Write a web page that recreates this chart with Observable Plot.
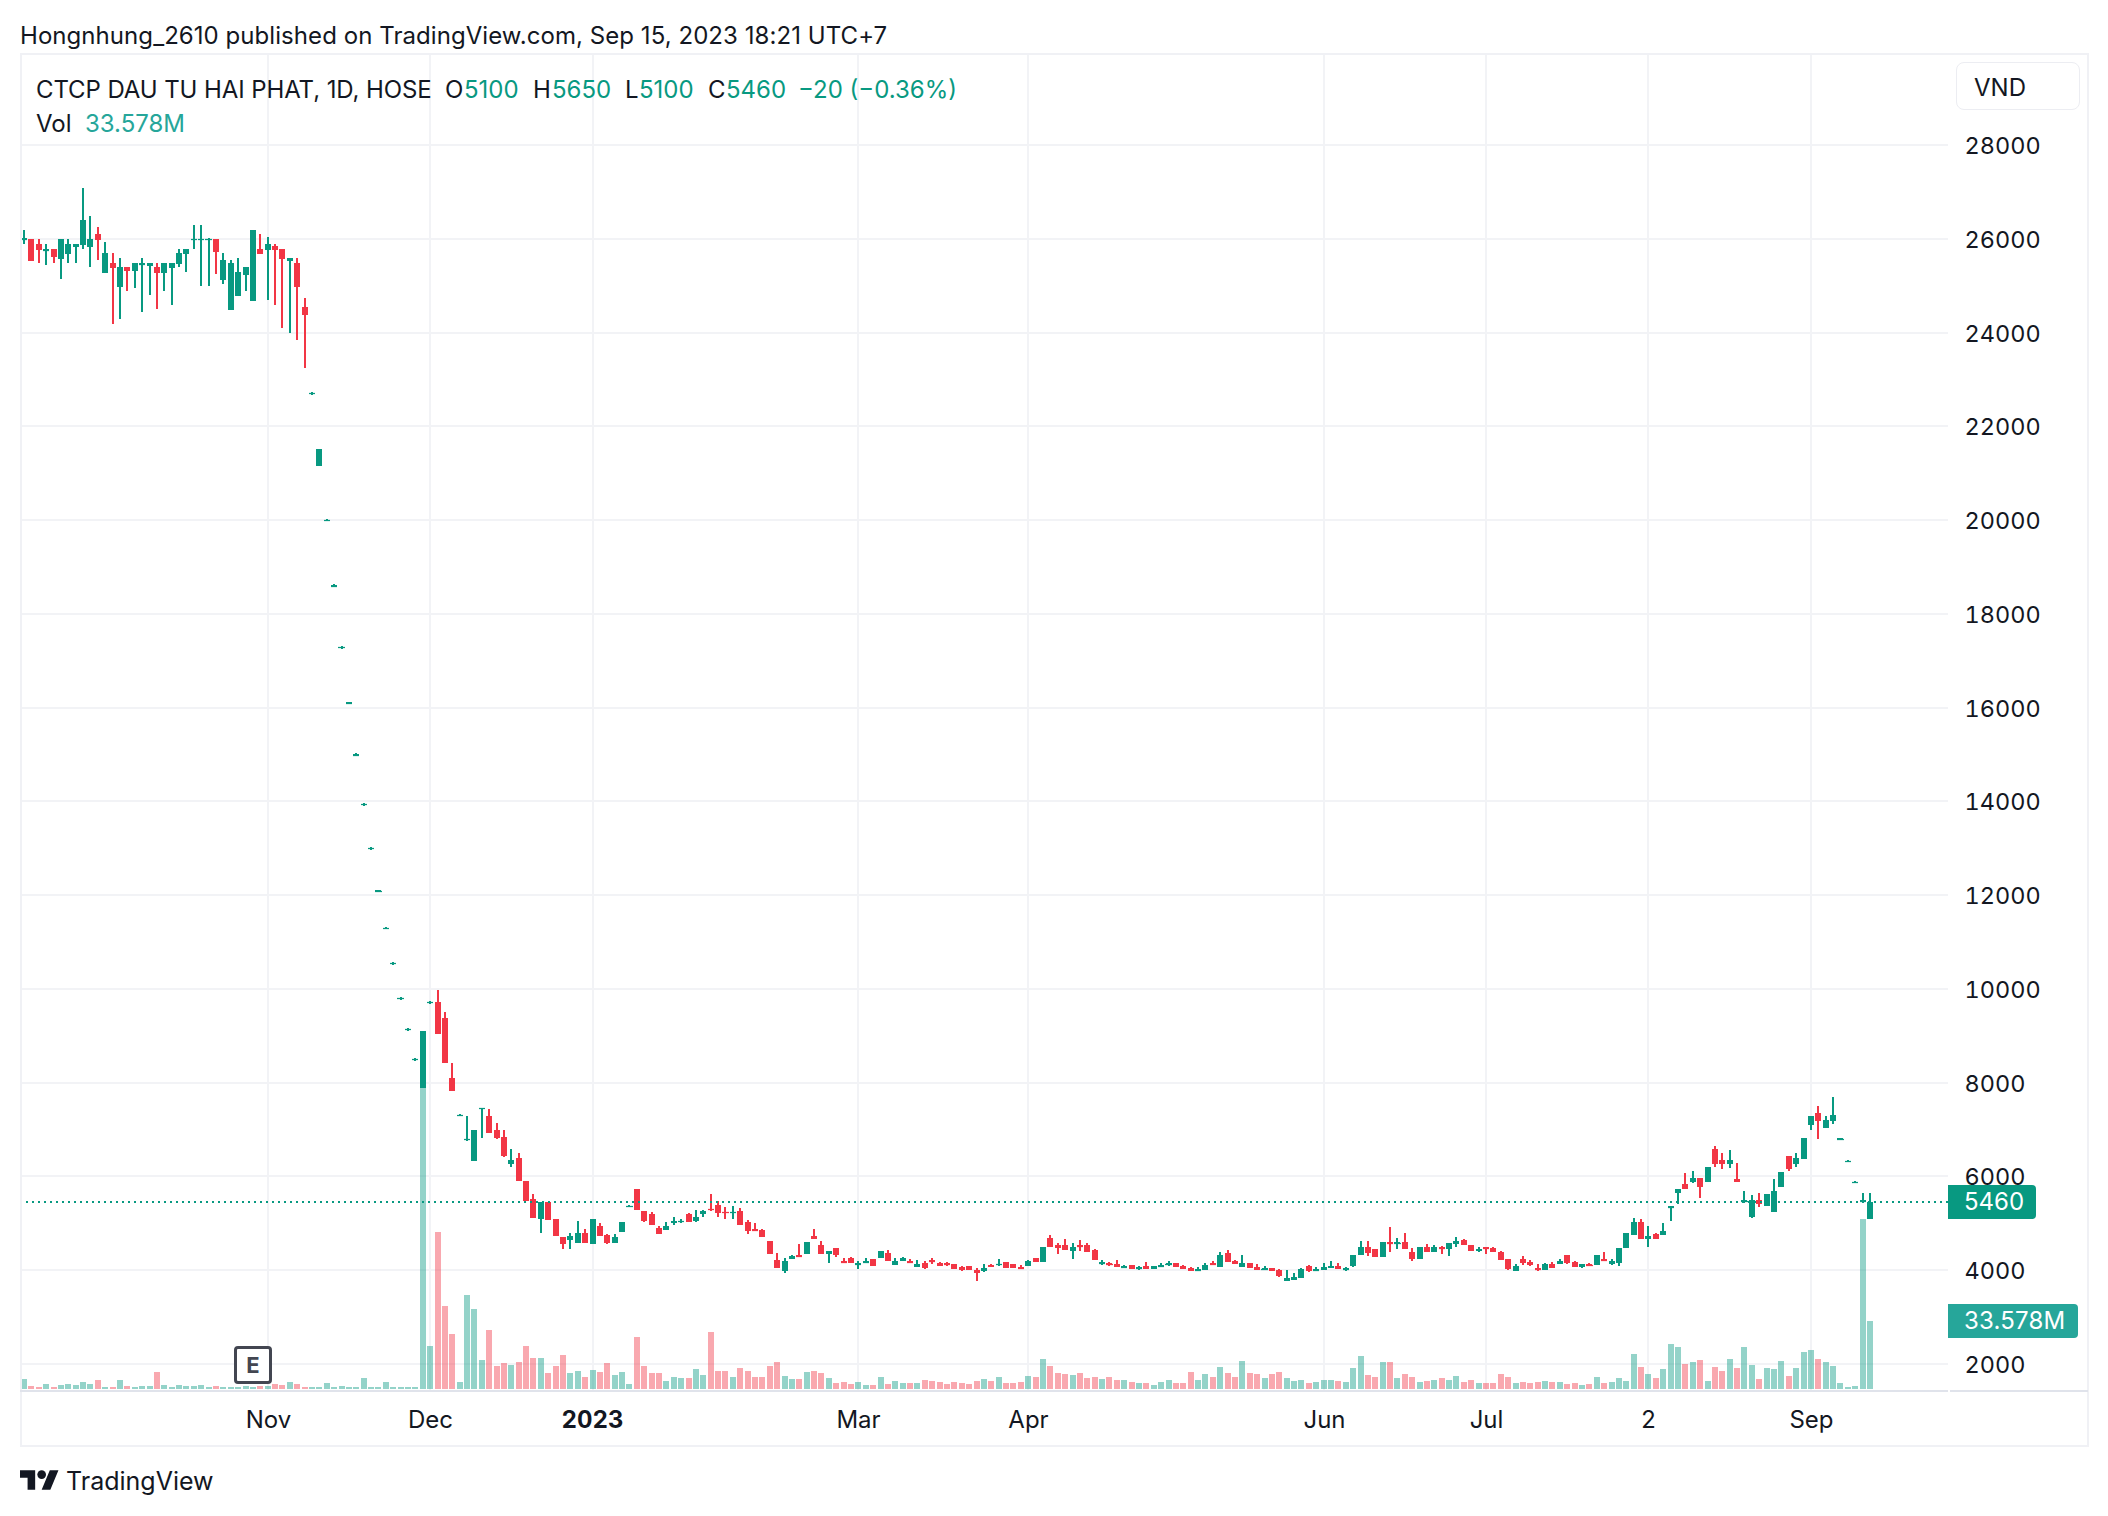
<!DOCTYPE html>
<html><head><meta charset="utf-8">
<script src="https://cdn.jsdelivr.net/npm/d3@7"></script>
<script src="https://cdn.jsdelivr.net/npm/@observablehq/plot@0.6"></script>
<style>
html,body{margin:0;padding:0;background:#fff;overflow:hidden}
#page{position:relative;width:2108px;height:1516px;font-family:Inter,"Noto Sans",sans-serif;color:#131722;font-size:24px;line-height:1}
#chart{position:absolute;left:0;top:54px}
.t{position:absolute;white-space:nowrap;transform:translateY(-50%)}
.box{position:absolute;box-sizing:border-box}
</style></head><body><div id="page"><div id="chart"></div></div>
<script>
const opens=[
25980,26000,25890,25760,25780,25570,25680,25820,25870,25820,
26100,25270,25480,24970,25400,25310,25460,25420,25400,25270,
25380,25460,25680,25980,25980,25980,26000,25120,24480,24780,
25230,24670,25780,25760,25850,25780,25530,25480,24550,22690,
21150,19990,18590,17280,16090,14990,13930,12990,12080,11290,
10540,9790,9130,8490,7890,9705,9720,9380,8100,7300,
6780,6340,7450,7300,7000,6850,6270,6400,5910,5510,
5100,5460,5100,4700,4650,4590,4800,4550,4950,4760,
4590,4820,5360,5740,5270,5190,4910,4850,5000,5030,
5190,5040,5190,5310,5400,5250,5230,5260,5020,4870,
4850,4630,4220,3990,4250,4330,4350,4740,4530,4350,
4480,4200,4270,4120,4160,4250,4270,4370,4120,4200,
4200,4070,4160,4220,4160,4160,4140,4070,4090,4010,
3990,4120,4120,4180,4140,4070,4090,4270,4180,4680,
4530,4530,4410,4530,4530,4430,4130,4150,4130,4060,
4110,4020,4090,4020,4090,4130,4150,4090,4040,3980,
4000,4150,4060,4360,4190,4060,4150,4060,4000,4040,
4000,3770,3790,3830,4090,3980,4000,4040,4090,4000,
4090,4320,4490,4450,4280,4600,4580,4600,4380,4230,
4490,4380,4490,4450,4560,4640,4530,4400,4490,4470,
4380,4230,3980,4230,4170,4040,4000,4130,4130,4320,
4170,4060,4130,4110,4230,4130,4150,4470,4750,5020,
4660,4770,4750,5330,5650,5840,5890,5970,5890,6590,
6360,6270,5950,5470,5140,5500,5370,5240,5780,6440,
6270,6380,7090,7360,7040,7190,6790,6320,5870,5470,5100];
const highs=[
26190,26000,26000,25890,25780,26000,26000,25890,27080,26490,
26250,25930,25700,25590,25400,25480,25590,25480,25480,25480,
25480,25780,25780,26290,26290,26020,26000,25700,25550,25590,
25400,26190,26100,26040,25890,25780,25590,25590,24740,22730,
21510,20030,18630,17320,16130,15030,13970,13030,12120,11330,
10580,9830,9170,8530,9105,9745,9980,9510,8420,7340,
7300,7000,7470,7440,7150,7000,6590,6490,5910,5630,
5460,5460,5100,4700,4800,5040,4870,5090,5000,4780,
4780,5020,5400,5740,5270,5250,4950,5020,5140,5100,
5230,5290,5290,5630,5480,5340,5380,5320,5070,5000,
4890,4630,4370,4270,4330,4550,4610,4870,4630,4420,
4480,4270,4290,4200,4270,4250,4400,4440,4270,4290,
4250,4220,4200,4270,4180,4180,4140,4090,4090,4050,
4140,4140,4250,4180,4140,4120,4220,4270,4500,4760,
4590,4660,4580,4640,4580,4450,4210,4170,4210,4110,
4110,4090,4170,4090,4150,4190,4150,4110,4060,4060,
4150,4190,4380,4430,4210,4320,4150,4130,4090,4040,
4020,4000,3940,4040,4110,4060,4150,4190,4150,4060,
4320,4620,4620,4450,4600,4920,4680,4790,4470,4490,
4560,4530,4510,4580,4700,4660,4530,4490,4490,4490,
4400,4230,4130,4300,4210,4130,4150,4170,4230,4320,
4190,4130,4150,4320,4380,4230,4470,4790,5110,5090,
4940,4790,5000,5360,5740,6080,6120,5970,6210,6640,
6510,6570,6290,5690,5610,5650,5630,5950,6100,6440,
6510,6830,7300,7510,7300,7690,6830,6360,5910,5650,5650];
const lows=[
25890,25530,25480,25440,25480,25140,25480,25480,25780,25400,
25550,25270,24180,24290,24890,24950,24440,24800,24500,24890,
24590,25400,25290,25780,24990,24990,25250,25040,24480,24780,
24890,24670,25680,24690,24590,24100,23990,23840,23240,22670,
21150,19970,18570,17260,16070,14970,13910,12970,12060,11270,
10520,9770,9110,8470,7890,9685,9040,8420,7830,7280,
6760,6340,6810,6930,6800,6420,6210,5910,5480,5120,
4800,5080,4740,4460,4460,4590,4590,4550,4740,4570,
4590,4820,5340,5290,5020,4970,4780,4850,4970,5000,
5020,5020,5140,5270,5140,5100,5100,4960,4780,4830,
4700,4350,4050,3940,4250,4290,4350,4660,4350,4160,
4290,4160,4160,4030,4160,4090,4270,4200,4120,4200,
4160,4070,4030,4140,4090,4090,4030,3990,4010,3770,
3960,4070,4090,4050,4050,4030,4090,4180,4180,4500,
4350,4430,4240,4410,4380,4210,4110,4090,4060,4040,
4020,4000,4020,4020,4060,4090,4060,4020,3980,3980,
4000,4110,4060,4170,4130,4060,4040,4000,4000,3980,
3850,3770,3790,3830,3960,3980,4000,4040,4020,3980,
4060,4320,4300,4280,4280,4380,4450,4450,4190,4230,
4380,4380,4340,4300,4490,4530,4400,4380,4340,4380,
4210,4000,3980,4110,4090,3980,4000,4040,4130,4130,
4060,4040,4090,4110,4190,4110,4090,4470,4750,4660,
4490,4660,4750,5050,5410,5740,5860,5540,5890,6210,
6160,6190,5890,5440,5110,5350,5370,5240,5780,6120,
6210,6380,7000,6790,7040,7110,6770,6300,5850,5440,5100];
const closes=[
26010,25530,25760,25780,25610,26000,25890,25890,26400,26000,
25970,25700,25380,25400,25310,25480,25480,25480,25270,25480,
25480,25700,25780,26000,26000,26000,25720,25550,25480,25290,
25400,26190,25680,25890,25760,25570,25590,24970,24370,22710,
21510,20010,18610,17300,16110,15010,13950,13010,12100,11310,
10560,9810,9150,8510,9105,9725,9040,8420,7830,7320,
6800,7000,7470,6930,6830,6440,6360,5910,5480,5120,
5460,5080,4740,4570,4720,4800,4590,5090,4740,4590,
4700,5020,5380,5290,5040,4970,4780,4950,5060,5060,
5020,5140,5270,5290,5230,5230,5250,4960,4830,4830,
4700,4350,4050,4200,4310,4290,4610,4660,4350,4400,
4330,4160,4160,4160,4200,4090,4400,4200,4200,4270,
4160,4140,4050,4180,4090,4120,4030,4010,4010,3940,
4050,4070,4140,4050,4050,4030,4200,4180,4500,4500,
4480,4430,4490,4510,4380,4210,4170,4110,4060,4090,
4020,4060,4020,4090,4110,4150,4060,4020,3980,4020,
4110,4110,4320,4170,4130,4150,4040,4000,4040,3980,
3870,3830,3850,4020,3980,4020,4060,4090,4020,4040,
4320,4490,4360,4280,4600,4580,4600,4450,4230,4490,
4380,4490,4470,4580,4620,4530,4400,4450,4450,4380,
4210,4020,4090,4150,4110,4020,4130,4040,4190,4150,
4060,4130,4090,4320,4190,4190,4470,4790,5020,4660,
4730,4660,4830,5360,5740,5740,5970,5780,6210,6270,
6270,6360,5890,5500,5500,5410,5630,5690,6100,6160,
6400,6830,7300,7190,7210,7320,6810,6340,5890,5490,5460];
const volumesM=[
4.9,1.5,1.0,2.5,1.0,2.0,2.5,2.0,3.5,2.5,
4.4,1,1,4.4,1.5,1,1.5,1.5,8.4,2,
1,2,1.5,1.5,2,1,1.5,1,1,1,
1.5,1,1.5,1.5,2.5,2,3.5,2.5,1,1,
1,3,1,1.5,1,1,5.4,1,1,3.5,
1,1,1,1,160,21.2,77.5,41,27.2,3.5,
46.4,39.5,14.3,29.1,11.4,12.8,11.9,13.3,21.2,15.3,
15.3,7.9,11.4,16.8,7.9,8.9,5.9,9.4,8.4,12.8,
6.9,8.4,2.5,25.7,11.4,7.9,7.9,4,5.9,5.4,
5.4,9.9,6.9,28.1,8.9,8.9,5.9,10.4,8.9,5.9,
5.9,11.4,13.3,6.4,4.9,4.9,8.4,8.9,7.9,5.4,
3,3.5,2.5,3.5,2,2,5.9,2.5,4,3,
3,3,4.4,4,3.5,2.5,3.5,3,2.5,4,
4.9,4,5.9,3,3,3.5,6.4,5.9,14.8,11.4,
7.9,7.4,6.9,7.9,5.4,5.9,4.9,5.9,4.4,4.4,
3.5,3,3,2,3.5,4.4,3,3,8.4,4.4,
7.4,5.9,10.9,7.9,5.9,13.8,7.9,7.4,5.4,7.4,
8.4,5.4,4,4.4,3,3.5,4.4,4.4,4,3.5,
10.4,16.3,6.9,5.9,13.3,13.3,5.4,7.4,5.9,3.5,
4,4.4,5.4,4.4,6.4,3.5,4.4,3,3,3,
7.4,5.9,3,3.5,3,3.5,4,3.5,3.5,2.5,
3,2,2.5,5.9,3,3.5,5.4,4,17.3,10.9,
7.4,5.4,9.9,22.2,20.7,12.3,13.3,14.3,4,10.9,
8.9,14.8,10.4,20.7,11.9,4.9,10.4,9.9,13.8,6.4,
10.4,18.3,19.3,14.8,13.3,11.4,3,1,1.5,84,33.578];

const priceTicks=d3.range(2000,28001,2000);
const monthTicks=[33,55,113,136,176,198,220,242];
const monthLabels=["Nov","Dec","Mar","Apr","Jun","Jul","2","Sep"];
const yearTicks=[77];
const yearLabels=["2023"];
const lastPrice=5460;
const green="#089981", red="#f23645", grid="#f2f3f6";
// The volume pane shares the price axis: its floor sits at this price and one million shares spans this many VND.
const volumeFloor=1461, volumePerMillion=43.2;

const rows=opens.map((o,i)=>({i,open:o,high:highs[i],low:lows[i],close:closes[i],vol:volumesM[i],
  color:closes[i]>=o?green:red}));
const thinBodies=rows.filter(d=>Math.abs(d.open-d.close)<45);

const chart=Plot.plot({
  width:2108,height:1392,marginTop:0,marginLeft:20,marginRight:160,marginBottom:56,
  style:{background:"transparent",fontFamily:"Inter, 'Noto Sans', sans-serif",color:"#131722",overflow:"visible",maxWidth:"none"},
  x:{type:"linear",domain:[0,250],range:[24,1870],round:true,axis:null},
  y:{type:"linear",domain:[2000,28000],range:[1310,91],round:true,axis:null},
  marks:[
    Plot.ruleY(priceTicks,{stroke:grid,strokeWidth:2,dy:-0.5}),
    Plot.ruleX(monthTicks.concat(yearTicks),{stroke:grid,strokeWidth:2,dx:-0.5}),
    Plot.ruleX(rows,{x:"i",y1:()=>volumeFloor,y2:d=>volumeFloor+d.vol*volumePerMillion,stroke:"color",strokeOpacity:0.43,strokeWidth:6,dx:-0.5}),
    Plot.ruleX(rows,{x:"i",y1:"low",y2:"high",stroke:"color",strokeWidth:2,dx:-0.5}),
    Plot.ruleX(rows,{x:"i",y1:"open",y2:"close",stroke:"color",strokeWidth:6,dx:-0.5}),
    Plot.ruleY(thinBodies,{y:d=>(d.open+d.close)/2,x1:d=>d.i-0.42,x2:d=>d.i+0.42,stroke:"color",strokeWidth:1.25}),
    Plot.ruleY([lastPrice],{stroke:green,strokeWidth:2,strokeDasharray:"2 4",dy:-0.5}),
    Plot.axisY(priceTicks,{anchor:"right",tickSize:0,tickPadding:16,fontSize:23.5,dy:1,tickFormat:"d",label:null,fill:"#131722"}),
    Plot.axisX(monthTicks,{anchor:"bottom",tickSize:0,tickPadding:20,fontSize:24,label:null,fill:"#131722",
      tickFormat:v=>monthLabels[monthTicks.indexOf(v)]}),
    Plot.axisX(yearTicks,{anchor:"bottom",tickSize:0,tickPadding:20,fontSize:24,fontWeight:700,dx:-1,label:null,fill:"#131722",
      tickFormat:v=>yearLabels[yearTicks.indexOf(v)]})
  ]
});
document.getElementById("chart").appendChild(chart);

const page=document.getElementById("page");
function txt(x,cy,s,color,extra){const e=document.createElement("div");e.className="t";e.textContent=s;
  e.style.left=x+"px";e.style.top=cy+"px";if(color)e.style.color=color;if(extra)Object.assign(e.style,extra);page.appendChild(e);return e;}
function box(x,y,w,h,css){const e=document.createElement("div");e.className="box";
  Object.assign(e.style,{left:x+"px",top:y+"px",width:w+"px",height:h+"px"},css);page.appendChild(e);return e;}

txt(20,36,"Hongnhung_2610 published on TradingView.com, Sep 15, 2023 18:21 UTC+7",null,{letterSpacing:"0.06px"});
box(20,53,2069,1394,{border:"2px solid #f0f1f5"});
box(20,1390,1928,2,{background:"#e0e3eb"});
box(1950,1390,138,2,{background:"#e0e3eb"});

// legend
const ohlc=green;
txt(36,90,"CTCP DAU TU HAI PHAT, 1D, HOSE",null,{letterSpacing:"-0.1px"});
txt(445,90,"O");txt(464,90,"5100",ohlc);
txt(533,90,"H");txt(552,90,"5650",ohlc);
txt(625,90,"L");txt(639,90,"5100",ohlc);
txt(708,90,"C");txt(726,90,"5460",ohlc);
txt(798,90,"\u221220 (\u22120.36%)",ohlc);
txt(36,124,"Vol");txt(85,124,"33.578M","#26a69a");

// currency button
box(1956,62,124,48,{border:"1px solid #ecedf2",borderRadius:"8px",background:"#fff"});
txt(1974,88,"VND");

// last value labels
box(1948,1185,88,34,{background:green,borderRadius:"0 4px 4px 0"});
txt(1964,1202,"5460","#fff");
box(1948,1304,130,34,{background:"#26a69a",borderRadius:"0 4px 4px 0"});
txt(1964,1321,"33.578M","#fff",{letterSpacing:"0.2px"});

// earnings badge
box(234,1346,38,38,{border:"3px solid #434651",borderRadius:"4px",background:"#fff"});
txt(253,1365,"E","#434651",{fontWeight:"700",fontSize:"22px",transform:"translate(-50%,-50%)"});

// footer
const NS="http://www.w3.org/2000/svg";
const logo=document.createElementNS(NS,"svg");
logo.setAttribute("viewBox","0 4 36 18");logo.setAttribute("width","39");logo.setAttribute("height","20");
logo.style.cssText="position:absolute;left:20px;top:1470px";
logo.innerHTML='<path fill="#131722" d="M14 22H7V11H0V4h14v18zM28 22h-8l7.5-18h8L28 22z"/><circle fill="#131722" cx="20" cy="8" r="4"/>';
page.appendChild(logo);
txt(66,1481,"TradingView",null,{fontSize:"25px",fontWeight:"400"});
</script></body></html>
